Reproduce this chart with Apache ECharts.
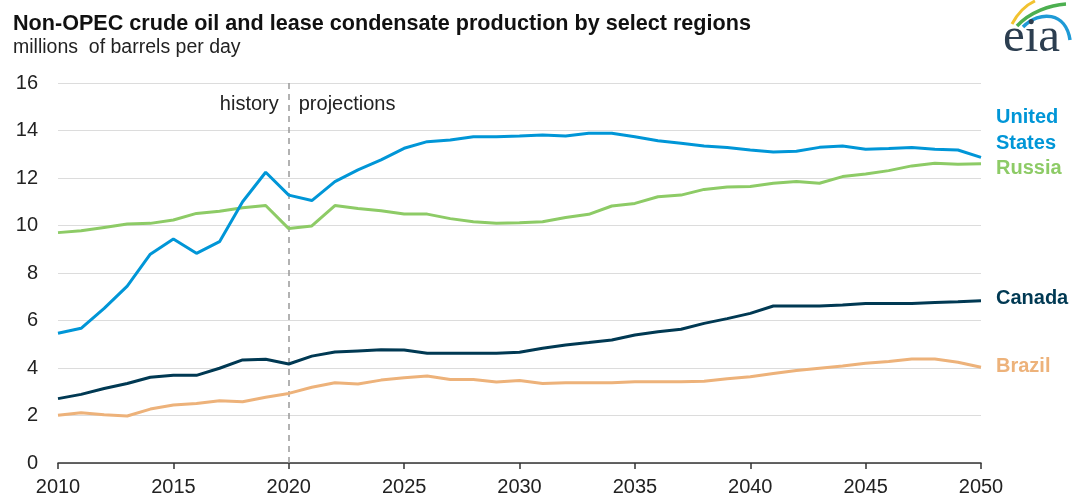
<!DOCTYPE html>
<html>
<head>
<meta charset="utf-8">
<script src="https://cdn.jsdelivr.net/npm/echarts@6/dist/echarts.min.js"></script>
<style>
html,body{margin:0;padding:0;background:#fff;}
#chart{width:1076px;height:500px;}
</style>
</head>
<body>
<div id="chart"></div>
<script>
const years = [2010,2011,2012,2013,2014,2015,2016,2017,2018,2019,2020,2021,2022,2023,2024,2025,2026,2027,2028,2029,2030,2031,2032,2033,2034,2035,2036,2037,2038,2039,2040,2041,2042,2043,2044,2045,2046,2047,2048,2049,2050];
const unitedStates = [5.46,5.67,6.51,7.45,8.79,9.43,8.83,9.32,11.0,12.24,11.28,11.05,11.85,12.34,12.76,13.25,13.53,13.6,13.74,13.74,13.77,13.81,13.77,13.88,13.88,13.74,13.57,13.46,13.35,13.28,13.18,13.09,13.13,13.29,13.35,13.21,13.24,13.28,13.21,13.18,12.87];
const russia = [9.70,9.78,9.92,10.06,10.09,10.23,10.51,10.60,10.75,10.84,9.87,9.98,10.84,10.72,10.62,10.48,10.48,10.29,10.16,10.09,10.12,10.16,10.34,10.47,10.82,10.93,11.21,11.28,11.52,11.62,11.64,11.78,11.85,11.78,12.06,12.17,12.31,12.51,12.62,12.58,12.6];
const canada = [2.71,2.89,3.14,3.35,3.61,3.69,3.69,3.99,4.34,4.37,4.17,4.5,4.67,4.72,4.77,4.76,4.62,4.62,4.62,4.62,4.66,4.83,4.97,5.07,5.18,5.39,5.53,5.63,5.88,6.08,6.3,6.61,6.61,6.61,6.65,6.72,6.72,6.72,6.76,6.79,6.83];
const brazil = [2.01,2.12,2.03,1.98,2.27,2.44,2.51,2.62,2.58,2.77,2.93,3.19,3.38,3.33,3.49,3.59,3.66,3.52,3.52,3.41,3.47,3.35,3.38,3.38,3.38,3.42,3.42,3.42,3.44,3.55,3.63,3.77,3.89,3.99,4.08,4.2,4.27,4.38,4.38,4.24,4.03];
const seriesNames = ['United States','Russia','Canada','Brazil'];
const yTicks = [0,2,4,6,8,10,12,14,16];
const xTicks = [2010,2015,2020,2025,2030,2035,2040,2045,2050];
const colors = ['#0096d7','#8dcb66','#003953','#edb27a'];
const FONT = 'Liberation Sans, Arial, sans-serif';

function pairs(arr){ return years.map((y,i)=>[y,arr[i]]); }
const allData = [unitedStates, russia, canada, brazil];

const chart = echarts.init(document.getElementById('chart'), null, {renderer:'canvas'});
const option = {
  animation:false,
  backgroundColor:'#fff',
  textStyle:{fontFamily:FONT},
  grid:{left:58,right:95,top:83,bottom:37,containLabel:false},
  xAxis:{
    type:'value', min:xTicks[0], max:xTicks[xTicks.length-1], interval:5,
    axisLine:{show:true,lineStyle:{color:'#333',width:1.5}},
    axisTick:{show:true,length:6,lineStyle:{color:'#333',width:1.5}},
    axisLabel:{fontSize:20,color:'#222',margin:14,fontFamily:FONT,formatter:v=>String(v)},
    splitLine:{show:false}
  },
  yAxis:{
    type:'value', min:yTicks[0], max:yTicks[yTicks.length-1], interval:2,
    axisLine:{show:false}, axisTick:{show:false},
    axisLabel:{fontSize:20,color:'#222',margin:20,fontFamily:FONT},
    splitLine:{show:true,lineStyle:{color:'#dcdcdc',width:1.2}}
  },
  series: seriesNames.map((n,i)=>({
    name:n, type:'line', data:pairs(allData[i]), showSymbol:false, symbol:'none',
    lineStyle:{color:colors[i],width:3}, z: 10-i,
    markLine: i===0 ? {
      silent:true, symbol:['none','none'], label:{show:false},
      lineStyle:{color:'#999',type:[6,5],width:1.5},
      data:[[{coord:[2020,0]},{coord:[2020,16]}]]
    } : undefined
  }))
};
chart.setOption(option);

const p2020 = chart.convertToPixel({gridIndex:0},[2020,16]);
const lastX = chart.convertToPixel({gridIndex:0},[2050,0])[0];
chart.setOption({
  graphic:[
    {type:'text',left:13,top:13,style:{text:'Non-OPEC crude oil and lease condensate production by select regions',font:'bold 21.6px '+FONT,fill:'#111'}},
    {type:'text',left:13,top:38,style:{text:'millions  of barrels per day',font:'19.5px '+FONT,fill:'#222'}},
    {type:'text',x:p2020[0]-10,y:p2020[1]+21,style:{text:'history',font:'20px '+FONT,fill:'#222',textAlign:'right',textVerticalAlign:'middle'}},
    {type:'text',x:p2020[0]+10,y:p2020[1]+21,style:{text:'projections',font:'20px '+FONT,fill:'#222',textAlign:'left',textVerticalAlign:'middle'}},
    {type:'text',x:lastX+15,y:104,style:{text:'United\nStates',font:'bold 20px '+FONT,fill:colors[0],lineHeight:26}},
    {type:'text',x:lastX+15,y:158,style:{text:'Russia',font:'bold 20px '+FONT,fill:colors[1]}},
    {type:'text',x:lastX+15,y:288,style:{text:'Canada',font:'bold 20px '+FONT,fill:colors[2]}},
    {type:'text',x:lastX+15,y:356,style:{text:'Brazil',font:'bold 20px '+FONT,fill:colors[3]}},
    {type:'bezierCurve',shape:{x1:1012,y1:24,x2:1035,y2:1,cpx1:1018,cpy1:13,cpx2:1026,cpy2:5},style:{stroke:'#f2c230',lineWidth:3,fill:null}},
    {type:'bezierCurve',shape:{x1:1017,y1:26,x2:1066,y2:4,cpx1:1030,cpy1:12,cpx2:1050,cpy2:5},style:{stroke:'#4caf50',lineWidth:3.5,fill:null}},
    {type:'bezierCurve',shape:{x1:1023,y1:27,x2:1070,y2:40,cpx1:1040,cpy1:10,cpx2:1066,cpy2:12},style:{stroke:'#1e9ad6',lineWidth:3.5,fill:null}},
    {type:'text',x:1003,y:38,style:{text:'eia',font:'49px Liberation Serif, Times New Roman, serif',fill:'#2c3e50',textVerticalAlign:'middle'}}
  ]
});
</script>
</body>
</html>
